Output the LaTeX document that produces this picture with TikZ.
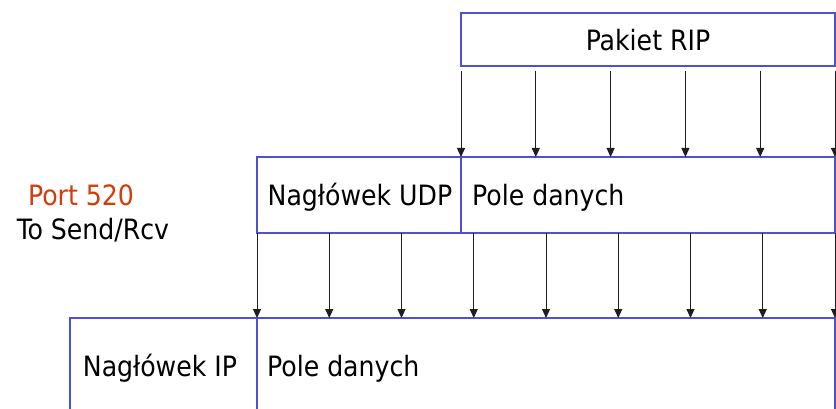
\documentclass[tikz,border=0pt]{standalone}
\usepackage{fontspec}
\setmainfont{DejaVu Sans Condensed}
\usetikzlibrary{arrows.meta}
\definecolor{framecol}{RGB}{80,80,215}
\definecolor{portcol}{RGB}{210,60,10}
\definecolor{arrowcol}{RGB}{30,30,30}
\tikzset{
  field/.style={draw=framecol, line width=1.3pt},
  label/.style={inner sep=0pt, font=\fontsize{28}{32}\selectfont},
  feed/.style={draw=arrowcol, line width=1pt, -{Triangle[length=9pt,width=8pt]}}
}
\begin{document}
\begin{tikzpicture}[x=1pt,y=-1pt]
  \useasboundingbox (0,0) rectangle (836,409);
  % RIP packet
  \draw[field] (461,13) rectangle (835,66);
  \node[label, anchor=base] (rip) at (648,51) {Pakiet RIP};
  % UDP datagram: header + data field
  \draw[field] (257,157) rectangle (835,233);
  \draw[field] (461,157) -- (461,233);
  \node[label, anchor=base] (udph) at (360,206) {Nagłówek UDP};
  \node[label, anchor=base west] (udpd) at (472,206) {Pole danych};
  % IP datagram: header + data field (runs past the lower edge)
  \draw[field] (835,409) -- (835,318) -- (70,318) -- (70,409);
  \draw[field] (257,318) -- (257,409);
  \node[label, anchor=base] (iph) at (160,376) {Nagłówek IP};
  \node[label, anchor=base west] (ipd) at (267,376) {Pole danych};
  % port annotation
  \node[label, anchor=base, text=portcol] (port) at (81,206) {Port 520};
  \node[label, anchor=base] (sr) at (93,240) {To Send/Rcv};
  % RIP packet -> UDP data field
  \foreach \i in {0,...,5} {
    \coordinate (a\i) at ({461+74.8*\i},71);
    \coordinate (b\i) at ({461+74.8*\i},157);
    \draw[feed] (a\i) -- (b\i);
  }
  % UDP datagram -> IP data field
  \foreach \i in {0,...,8} {
    \coordinate (c\i) at ({257+72.25*\i},233);
    \coordinate (d\i) at ({257+72.25*\i},318);
    \draw[feed] (c\i) -- (d\i);
  }
\end{tikzpicture}
\end{document}
